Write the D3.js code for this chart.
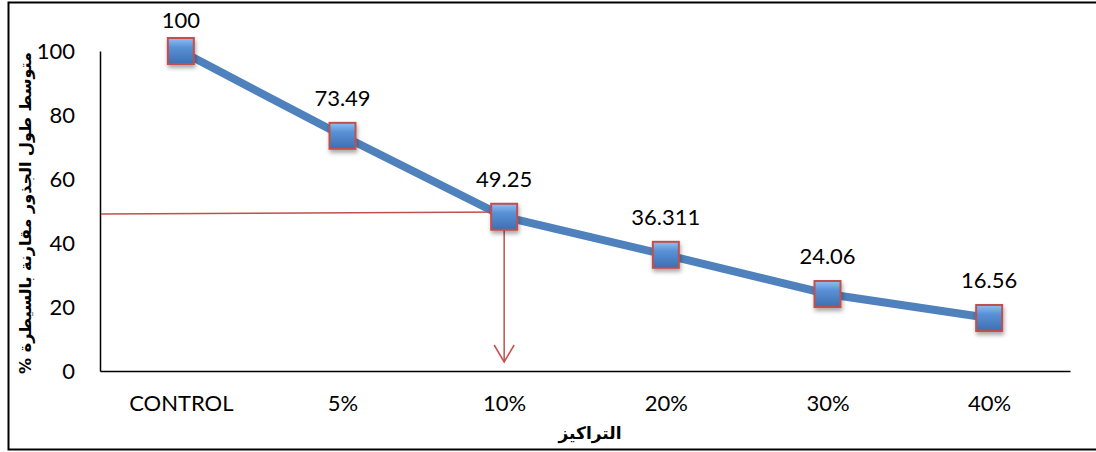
<!DOCTYPE html>
<html>
<head>
<meta charset="utf-8">
<script src="https://cdn.jsdelivr.net/npm/d3@7"></script>
<style>
  body { margin: 0; background: #fff; }
</style>
</head>
<body>
<div id="chart"></div>
<script>
const categories = ['CONTROL', '5%', '10%', '20%', '30%', '40%'];
const values = [100, 73.49, 48.2, 36.311, 24.06, 16.56];
const value_labels = ['100', '73.49', '49.25', '36.311', '24.06', '16.56'];
const y_ticks = [0, 20, 40, 60, 80, 100];
const ref_value = 49.25;
const ref_category = '10%';

const chart_width = 1096;
const chart_height = 452;
const font = 'Lato, "Open Sans", sans-serif';

const svg = d3.select('#chart')
    .append('svg')
    .attr('width', chart_width)
    .attr('height', chart_height);

// outer frame
svg.append('rect')
    .attr('x', 8.5).attr('y', 2.5)
    .attr('width', 1100).attr('height', 447)
    .attr('fill', 'none')
    .attr('stroke', '#000')
    .attr('stroke-width', 2);

const defs = svg.append('defs');
const grad = defs.append('linearGradient')
    .attr('id', 'mk').attr('x1', 0).attr('y1', 0).attr('x2', 0).attr('y2', 1);
grad.append('stop').attr('offset', '0%').attr('stop-color', '#8fc1f3');
grad.append('stop').attr('offset', '35%').attr('stop-color', '#5a91d6');
grad.append('stop').attr('offset', '100%').attr('stop-color', '#3d6fb0');
const shadow = defs.append('filter').attr('id', 'sh')
    .attr('x', '-50%').attr('y', '-50%').attr('width', '200%').attr('height', '200%');
shadow.append('feDropShadow')
    .attr('dx', 1).attr('dy', 3).attr('stdDeviation', 2)
    .attr('flood-color', '#000').attr('flood-opacity', 0.35);

// scales
const x_scale = d3.scalePoint()
    .domain(categories)
    .range([100, 1070])
    .padding(0.5);

const y_scale = d3.scaleLinear()
    .domain([0, 100])
    .range([371, 51]);

// axes
const y_axis = svg.append('g')
    .attr('transform', 'translate(100,0)')
    .call(d3.axisLeft(y_scale).tickValues(y_ticks).tickSize(0).tickPadding(25));
y_axis.select('.domain').attr('stroke', '#000').attr('stroke-width', 1.5);
y_axis.selectAll('text')
    .attr('font-family', font)
    .attr('font-size', 22)
    .attr('fill', '#000');

const x_axis = svg.append('g')
    .attr('transform', 'translate(0,371)')
    .call(d3.axisBottom(x_scale).tickSize(0).tickPadding(24));
x_axis.select('.domain').attr('stroke', '#000').attr('stroke-width', 1.5);
x_axis.selectAll('text')
    .attr('font-family', font)
    .attr('font-size', 22)
    .attr('fill', '#000');

// axis titles
svg.append('text')
    .attr('transform', 'translate(31,213) rotate(-90)')
    .attr('text-anchor', 'middle')
    .attr('font-family', '"DejaVu Sans", sans-serif')
    .attr('font-weight', 'bold')
    .attr('font-size', 16)
    .attr('direction', 'rtl')
    .text('متوسط طول الجذور مقارنة بالسيطرة %');

svg.append('text')
    .attr('x', 590).attr('y', 439)
    .attr('text-anchor', 'middle')
    .attr('font-family', '"DejaVu Sans", sans-serif')
    .attr('font-weight', 'bold')
    .attr('font-size', 17)
    .text('التراكيز');

// series line
const line = d3.line()
    .x((d, i) => x_scale(categories[i]))
    .y(d => y_scale(d));

svg.append('path')
    .datum(values)
    .attr('d', line)
    .attr('fill', 'none')
    .attr('stroke', '#4f81bd')
    .attr('stroke-width', 8);

// reference lines
const ref_x = x_scale(ref_category);
svg.append('line')
    .attr('x1', 101).attr('y1', y_scale(ref_value) + 0.5)
    .attr('x2', ref_x).attr('y2', y_scale(ref_value) - 1.5)
    .attr('stroke', '#c0504d')
    .attr('stroke-width', 1.5);

svg.append('line')
    .attr('x1', ref_x).attr('y1', 203)
    .attr('x2', ref_x).attr('y2', 362)
    .attr('stroke', '#c0504d')
    .attr('stroke-width', 1.5);
svg.append('path')
    .attr('d', `M${ref_x - 10},345 L${ref_x},362 L${ref_x + 10},345`)
    .attr('fill', 'none')
    .attr('stroke', '#c0504d')
    .attr('stroke-width', 1.5);

// markers
svg.selectAll('rect.mk')
    .data(values)
    .enter()
    .append('rect')
    .attr('class', 'mk')
    .attr('x', (d, i) => x_scale(categories[i]) - 13)
    .attr('y', d => y_scale(d) - 13)
    .attr('width', 26)
    .attr('height', 26)
    .attr('fill', 'url(#mk)')
    .attr('stroke', '#c0504d')
    .attr('stroke-width', 2)
    .attr('filter', 'url(#sh)');

// labels
svg.selectAll('text.lbl')
    .data(values)
    .enter()
    .append('text')
    .attr('class', 'lbl')
    .text((d, i) => value_labels[i])
    .attr('x', (d, i) => x_scale(categories[i]))
    .attr('y', d => Math.max(y_scale(d) - 30, 28))
    .attr('text-anchor', 'middle')
    .attr('font-family', font)
    .attr('font-size', 22)
    .attr('fill', '#000');
</script>
</body>
</html>
